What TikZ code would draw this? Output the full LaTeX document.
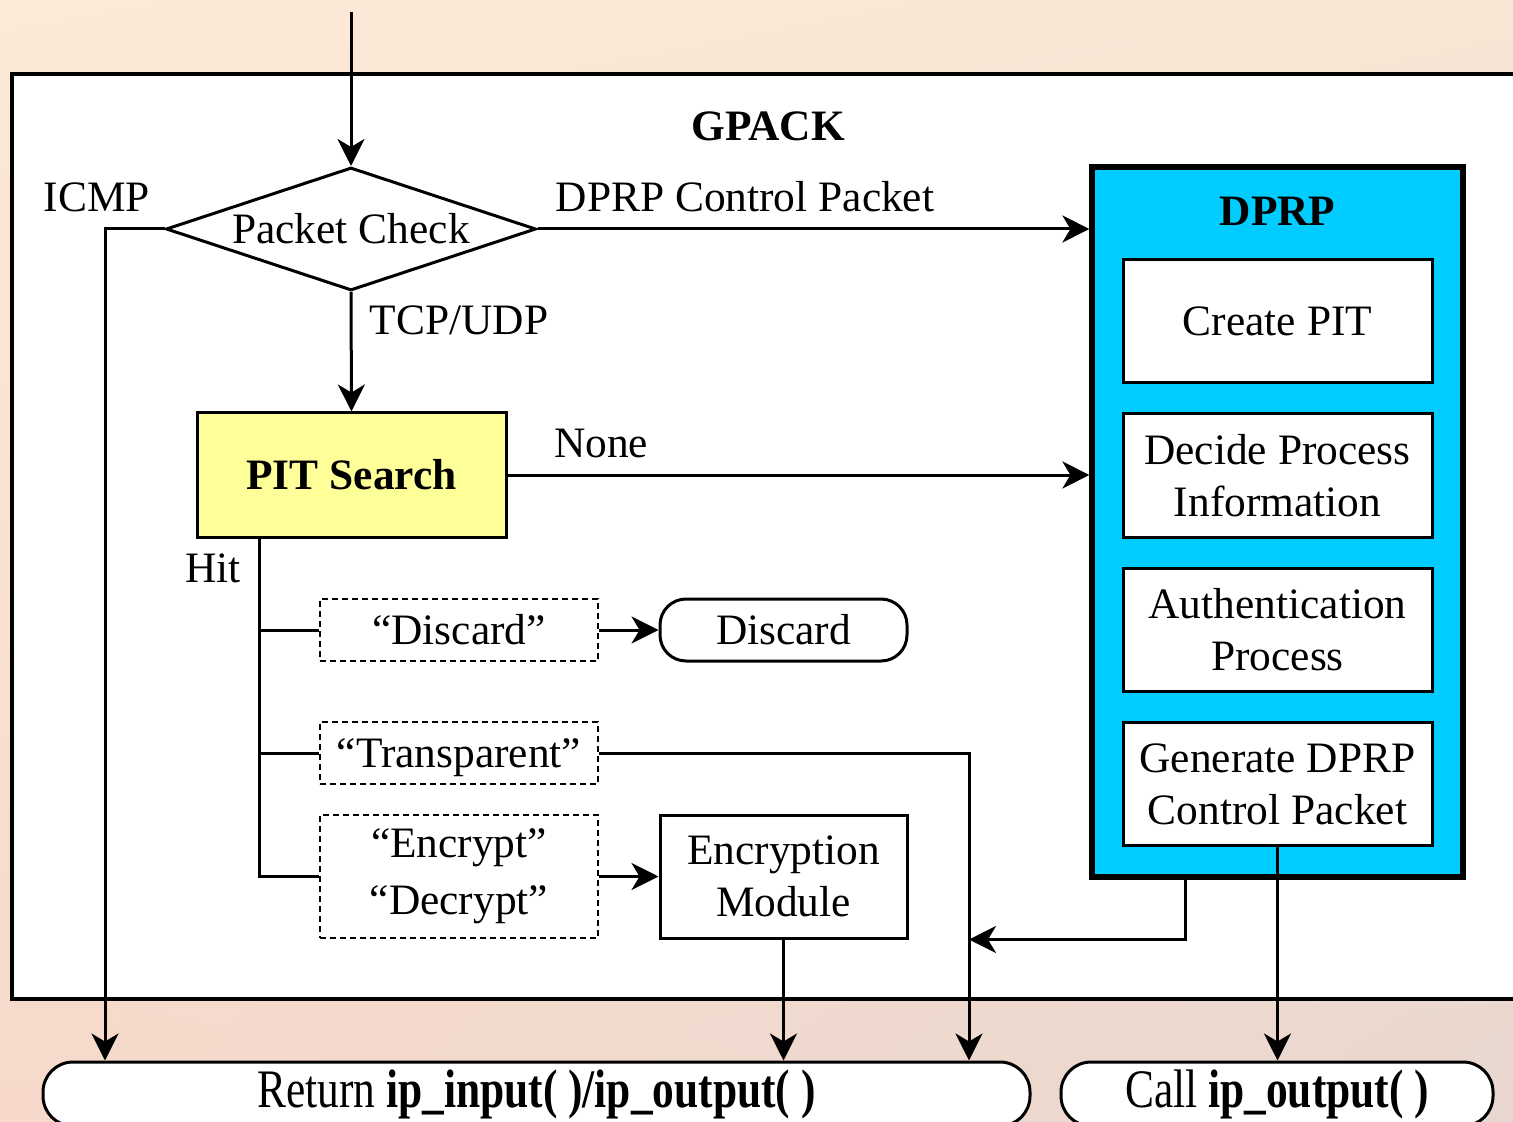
\documentclass[tikz,border=0pt]{standalone}
\usepackage{fontspec}
\setmainfont{Liberation Serif}
\usepackage{graphicx}
\usetikzlibrary{arrows.meta,shapes.geometric,shadings}

\definecolor{peachtl}{HTML}{FCE9D7}
\definecolor{peachtr}{HTML}{F9E5D4}
\definecolor{peachbl}{HTML}{F6D9CB}
\definecolor{peachbr}{HTML}{E8D7CF}
\definecolor{pityellow}{HTML}{FFFF99}
\definecolor{dprpcyan}{HTML}{00CCFF}

\begin{document}
\begin{tikzpicture}[
	x=0.5pt,y=-0.5pt,
	>={Stealth[length=13.5pt,width=13.5pt,inset=4pt]},
	line width=1.5pt,
	line join=miter,
	font=\fontsize{21.7}{26}\selectfont,
	box/.style={draw,rectangle,align=center,inner sep=0pt,fill=white},
	optbox/.style={box,dashed,dash pattern=on 3pt off 2pt,line width=1.3pt},
	endbox/.style={box,rounded corners=13pt},
	decision/.style={draw,diamond,aspect=3,inner sep=0pt,fill=white,
		minimum width=185pt,minimum height=61.5pt},
	lbl/.style={inner sep=0pt}
	]
	% page and background
	\useasboundingbox (0,0) rectangle (1513,1122);
	\shade[upper left=peachtl,upper right=peachtr,lower left=peachbl,lower right=peachbr]
		(0,0) rectangle (1513,1122);

	% GPACK frame (runs off the right edge)
	\draw[line width=2.3pt,fill=white] (12,74) rectangle (1540,999);
	\node[lbl,font=\fontsize{21.7}{26}\selectfont\bfseries] (gpack) at (768,126) {GPACK};

	% left part
	\coordinate (entry) at (351,12);
	\node[decision] (check) at (351,229) {Packet Check};
	\node[box,fill=pityellow,minimum width=154.5pt,minimum height=62pt,
		font=\fontsize{21.7}{26}\selectfont\bfseries] (pit) at (351.5,475) {PIT Search};
	\node[optbox,minimum width=139pt,minimum height=31pt] (optdis) at (459,630) {“Discard”};
	\node[optbox,minimum width=139pt,minimum height=31pt,text depth=0pt] (opttra) at (459,753) {“Transparent”};
	\node[optbox,minimum width=139pt,minimum height=61.5pt,
		font=\fontsize{21.7}{28.5}\selectfont] (optenc) at (459,876.5) {“Encrypt”\\“Decrypt”};
	\node[endbox,minimum width=123.5pt,minimum height=31pt] (discard) at (783.5,630) {Discard};
	\node[box,minimum width=123.5pt,minimum height=61.5pt] (encmod) at (783.5,876.5) {Encryption\\Module};

	% DPRP block
	\node[box,fill=dprpcyan,line width=2.6pt,minimum width=185.5pt,minimum height=355pt] (dprp) at (1277.5,522) {};
	\node[lbl,font=\fontsize{21.7}{26}\selectfont\bfseries] (dprptitle) at (1277.5,211) {DPRP};
	\node[box,minimum width=154.5pt,minimum height=61.5pt] (create) at (1277.5,321.5) {Create PIT};
	\node[box,minimum width=154.5pt,minimum height=61.5pt] (decide) at (1277.5,475.5) {Decide Process\\Information};
	\node[box,minimum width=154.5pt,minimum height=61.5pt] (auth) at (1277.5,629.5) {Authentication\\Process};
	\node[box,minimum width=154.5pt,minimum height=61.5pt] (gen) at (1277.5,784) {Generate DPRP\\Control Packet};

	% exits
	\node[endbox,rounded corners=15pt,minimum width=493.5pt,minimum height=32pt] (ret) at (536.5,1094)
		{\scalebox{1}[1.25]{Return \textbf{ip\_input( )/ip\_output( )}}};
	\node[endbox,rounded corners=15pt,minimum width=216pt,minimum height=32pt] (call) at (1277,1094)
		{\scalebox{1}[1.25]{Call \textbf{ip\_output( )}}};

	% helper points
	\coordinate (icmpcol) at (105,0);
	\coordinate (hit) at (259,537);
	\coordinate (tracol) at (969,0);
	\coordinate (dprpout) at (1185,877);

	% connectors
	\draw[->] (entry) -- (check.north);
	\draw[->] (check.east) -- (check.east -| dprp.west);
	\draw[->] (check.west) -| (ret.north -| icmpcol);
	\draw[->] (check.south) -- (pit.north);
	\draw[->] (pit.east) -- (pit.east -| dprp.west);
	\draw (hit) |- (optdis.west);
	\draw (hit) |- (opttra.west);
	\draw (hit) |- (optenc.west);
	\draw[->] (optdis.east) -- (discard.west);
	\draw[->] (optenc.east) -- (encmod.west);
	\draw[->] (opttra.east) -| (ret.north -| tracol);
	\draw[->] (encmod.south) -- (ret.north -| encmod.south);
	\draw[->] (dprpout) |- (encmod.south -| tracol);
	\draw[->] (gen.south) -- (call.north -| gen.south);

	% branch labels
	\node[lbl] (icmp) at (97,197) {ICMP};
	\node[lbl] (ctrl) at (745,197) {DPRP Control Packet};
	\node[lbl] (tcpudp) at (459,320) {TCP/UDP};
	\node[lbl] (none) at (601,444) {None};
	\node[lbl] (hitlbl) at (213,568) {Hit};
\end{tikzpicture}
\end{document}
